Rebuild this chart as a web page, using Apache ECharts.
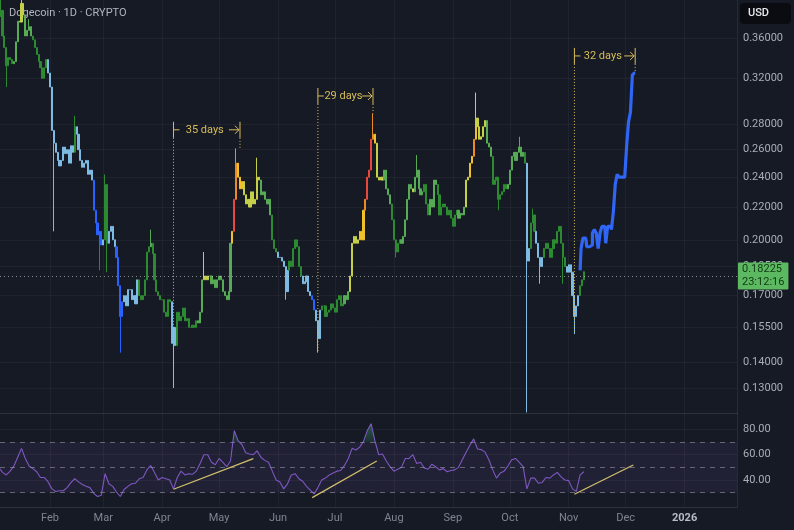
<!DOCTYPE html>
<html>
<head>
<meta charset="utf-8">
<title>Dogecoin 1D</title>
<script src="https://cdn.jsdelivr.net/npm/echarts@6/dist/echarts.min.js"></script>
<style>
  html, body { margin: 0; padding: 0; background: #161a25; }
  #chart { width: 794px; height: 530px; }
</style>
</head>
<body>
<div id="chart"></div>
<script>
// daily closes, one array per month (first candle is 2025-01-05)
const firstDay = '2025-01-05';
const firstOpen = 0.378;
const closeJan = [0.383, 0.390, 0.362, 0.350, 0.332, 0.340, 0.338, 0.334, 0.336, 0.356, 0.378, 0.377, 0.398, 0.385,
  0.362, 0.368, 0.372, 0.362, 0.358, 0.350, 0.343, 0.336, 0.330, 0.320, 0.330, 0.338, 0.325];
const closeFeb = [0.312, 0.275, 0.265, 0.258, 0.252, 0.248, 0.252, 0.262, 0.257, 0.260, 0.250, 0.263, 0.258, 0.278,
  0.272, 0.260, 0.252, 0.247, 0.250, 0.252, 0.242, 0.245, 0.238, 0.218, 0.210, 0.203, 0.205, 0.197];
const closeMar = [0.200, 0.235, 0.198, 0.205, 0.208, 0.200, 0.196, 0.190, 0.175, 0.160, 0.167, 0.170, 0.165, 0.173,
  0.173, 0.168, 0.170, 0.166, 0.178, 0.170, 0.168, 0.170, 0.178, 0.193, 0.196, 0.198, 0.192, 0.178, 0.172, 0.170, 0.168];
const closeApr = [0.168, 0.162, 0.160, 0.168, 0.167, 0.148, 0.155, 0.147, 0.162, 0.158, 0.160, 0.164, 0.158, 0.159,
  0.155, 0.155, 0.156, 0.155, 0.158, 0.157, 0.162, 0.178, 0.180, 0.178, 0.180, 0.180, 0.176, 0.178, 0.174, 0.178];
const closeMay = [0.180, 0.178, 0.172, 0.170, 0.168, 0.172, 0.198, 0.205, 0.225, 0.250, 0.240, 0.232, 0.237, 0.228,
  0.222, 0.225, 0.220, 0.230, 0.222, 0.225, 0.240, 0.238, 0.228, 0.230, 0.225, 0.222, 0.225, 0.215, 0.200, 0.195, 0.193];
const closeJun = [0.190, 0.190, 0.188, 0.185, 0.172, 0.183, 0.188, 0.185, 0.195, 0.200, 0.196, 0.185, 0.180, 0.176,
  0.177, 0.180, 0.172, 0.170, 0.168, 0.163, 0.158, 0.150, 0.163, 0.165, 0.165, 0.160, 0.162, 0.163, 0.166, 0.164];
const closeJul = [0.162, 0.168, 0.170, 0.165, 0.166, 0.170, 0.168, 0.172, 0.180, 0.198, 0.202, 0.198, 0.200, 0.205,
  0.200, 0.218, 0.225, 0.240, 0.245, 0.268, 0.272, 0.265, 0.240, 0.238, 0.240, 0.238, 0.245, 0.232, 0.228, 0.222, 0.212];
const closeAug = [0.200, 0.193, 0.198, 0.200, 0.198, 0.202, 0.212, 0.225, 0.235, 0.232, 0.230, 0.240, 0.245, 0.232,
  0.228, 0.230, 0.235, 0.222, 0.215, 0.225, 0.220, 0.238, 0.235, 0.228, 0.215, 0.220, 0.222, 0.220, 0.215, 0.218, 0.213];
const closeSep = [0.208, 0.215, 0.218, 0.213, 0.216, 0.215, 0.220, 0.238, 0.240, 0.250, 0.255, 0.268, 0.285, 0.278,
  0.268, 0.270, 0.278, 0.283, 0.265, 0.262, 0.255, 0.235, 0.238, 0.240, 0.225, 0.228, 0.230, 0.235, 0.232, 0.235];
const closeOct = [0.245, 0.255, 0.258, 0.252, 0.258, 0.262, 0.255, 0.258, 0.250, 0.188, 0.195, 0.210, 0.215, 0.205,
  0.198, 0.190, 0.185, 0.190, 0.195, 0.198, 0.195, 0.190, 0.195, 0.200, 0.198, 0.205, 0.208, 0.198, 0.190, 0.185, 0.182];
const closeNov = [0.186, 0.182, 0.170, 0.160, 0.165, 0.170, 0.175, 0.178, 0.18225];

// wicks that stick out of the bodies
const wickHighs = [['2025-01-06', 0.402], ['2025-01-17', 0.430], ['2025-01-21', 0.380], ['2025-02-14', 0.287],
  ['2025-03-02', 0.242], ['2025-03-26', 0.206], ['2025-04-23', 0.193], ['2025-05-10', 0.261], ['2025-05-21', 0.254],
  ['2025-07-21', 0.289], ['2025-08-13', 0.256], ['2025-09-13', 0.307], ['2025-10-06', 0.270], ['2025-10-13', 0.219]];
const wickLows = [['2025-01-09', 0.312], ['2025-02-03', 0.205], ['2025-02-27', 0.183], ['2025-03-03', 0.182],
  ['2025-03-10', 0.144], ['2025-04-07', 0.130], ['2025-06-05', 0.168], ['2025-06-22', 0.144], ['2025-08-02', 0.190],
  ['2025-09-25', 0.218], ['2025-10-10', 0.121], ['2025-10-17', 0.176], ['2025-10-29', 0.176], ['2025-11-04', 0.152]];

// projected path (blue), one value per day
const projectionStart = '2025-11-07';
const projection = [0.183, 0.195, 0.201, 0.201, 0.196, 0.196, 0.197, 0.204, 0.206, 0.204, 0.195, 0.204, 0.208, 0.208,
  0.198, 0.208, 0.208, 0.206, 0.217, 0.235, 0.242, 0.240, 0.240, 0.240, 0.241, 0.263, 0.282, 0.290, 0.323, 0.325];

// RSI, one value every 2 days from 2025-01-05
const rsiStart = '2025-01-05';
const rsiValues = [50, 46, 44, 47, 51, 58, 65, 57, 51, 49,
  46.5, 42, 42, 38.5, 33, 31, 31.5, 31.5, 34, 38,
  41, 38.5, 36.5, 35, 34, 29.5, 27, 28, 45, 37,
  35, 30.5, 27, 32.5, 35, 37, 37.5, 41, 42, 48,
  51.5, 46, 40, 42, 41, 40, 33, 42, 47, 44,
  45, 44.5, 47, 53, 60, 60, 54, 52, 57, 54,
  50.5, 55, 79, 71, 68, 61.5, 60.5, 60, 63, 58,
  55.5, 54, 47, 40, 38.5, 33, 37, 44, 45, 41,
  39, 35, 32, 29, 34, 40, 41.5, 44, 45.5, 47,
  47.5, 51.5, 57, 65, 63.7, 66, 70.5, 79, 84.5, 71,
  60, 60.5, 55, 50.5, 47, 48.5, 50, 57, 57, 60,
  53, 54, 49.5, 48.5, 52.5, 50.5, 48, 49, 46.5, 47.5,
  48, 50, 56, 62, 67.5, 72.5, 64.5, 64, 62, 56,
  48, 41.5, 45.5, 47, 51, 56, 57, 54, 50.5, 33,
  41.5, 41.5, 37.5, 38, 42, 41.5, 44, 46, 42.5, 40,
  39.5, 33, 31, 44, 46.5];

const rsiTrendlines = [
  [['2025-04-07', 32.7], ['2025-05-19', 56.9]],
  [['2025-06-19', 26.1], ['2025-07-23', 55]],
  [['2025-11-04', 28.7], ['2025-12-05', 51.9]]
];

const spans = [
  { from: '2025-04-07', to: '2025-05-12', label: '35 days', top: 0.2755, fromPrice: 0.130, toPrice: 0.261 },
  { from: '2025-06-22', to: '2025-07-21', label: '29 days', top: 0.304, fromPrice: 0.144, toPrice: 0.289 },
  { from: '2025-11-04', to: '2025-12-06', label: '32 days', top: 0.3416, fromPrice: 0.152, toPrice: 0.325 }
];

const priceTicks = [0.13, 0.14, 0.155, 0.17, 0.185, 0.2, 0.22, 0.24, 0.26, 0.28, 0.32, 0.36];
const rsiTicks = [40, 60, 80];
const monthTicks = ['2025-02-01', '2025-03-01', '2025-04-01', '2025-05-01', '2025-06-01', '2025-07-01',
  '2025-08-01', '2025-09-01', '2025-10-01', '2025-11-01', '2025-12-01', '2026-01-01'];
const monthLabels = ['Feb', 'Mar', 'Apr', 'May', 'Jun', 'Jul', 'Aug', 'Sep', 'Oct', 'Nov', 'Dec', '2026'];

const lastPrice = 0.18225;
const countdown = '23:12:16';

// RSI heat colours for the candles
const heatSteps = [31, 40, 50, 60, 66, 72, 78];
const heatColors = ['#2962ff', '#7dbbe3', '#2c8a31', '#58ab55', '#c6cf48', '#efc12a', '#ee8a25', '#e8483e'];

const DAY = 86400000;
const yearStart = Date.parse('2025-01-01');
const xMin = yearStart + 4.684 * DAY;
const xMax = yearStart + 392.58 * DAY;

const closes = [].concat(closeJan, closeFeb, closeMar, closeApr, closeMay, closeJun,
  closeJul, closeAug, closeSep, closeOct, closeNov);
const t0 = Date.parse(firstDay);
const highMap = Object.fromEntries(wickHighs.map(([d, v]) => [Date.parse(d), v]));
const lowMap = Object.fromEntries(wickLows.map(([d, v]) => [Date.parse(d), v]));
const rsiT0 = Date.parse(rsiStart);

function rsiAt(ts) {
  const p = (ts - rsiT0) / (2 * DAY);
  const i = Math.max(0, Math.min(rsiValues.length - 1, Math.floor(p)));
  const j = Math.min(rsiValues.length - 1, i + 1);
  const f = Math.max(0, Math.min(1, p - i));
  return rsiValues[i] * (1 - f) + rsiValues[j] * f;
}

function heat(r) {
  let k = 0;
  while (k < heatSteps.length && r >= heatSteps[k]) k++;
  return heatColors[k];
}

const candles = closes.map((c, i) => {
  const ts = t0 + i * DAY;
  const o = i ? closes[i - 1] : firstOpen;
  const hi = Math.max(o, c, highMap[ts] || 0);
  const lo = Math.min(o, c, lowMap[ts] || 1);
  const col = heat(rsiAt(ts));
  return {
    value: [ts, o, c, lo, hi],
    itemStyle: { color: col, color0: col, borderColor: col, borderColor0: col }
  };
});

const projT0 = Date.parse(projectionStart);
const projData = projection.map((v, i) => [projT0 + i * DAY, v]);
const rsiData = rsiValues.map((v, i) => [rsiT0 + i * 2 * DAY, v]);
const monthTs = monthTicks.map(d => Date.parse(d));

const gridColor = 'rgba(255,255,255,0.045)';
const labelColor = '#a9adb8';
const annoColor = '#d8bd5a';

function monthLabel(v) {
  let k = 0;
  monthTs.forEach((t, i) => { if (Math.abs(t - v) < Math.abs(monthTs[k] - v)) k = i; });
  const s = monthLabels[k];
  return /^\d{4}$/.test(s) ? '{yr|' + s + '}' : s;
}

const chart = echarts.init(document.getElementById('chart'));

const option = {
  backgroundColor: '#161a25',
  animation: false,
  textStyle: { fontFamily: 'Roboto, "Noto Sans", sans-serif' },
  grid: [
    { left: 0, right: 57, top: 0, height: 413 },
    { left: 0, right: 57, top: 413, height: 94 }
  ],
  xAxis: [
    {
      type: 'value', gridIndex: 0, min: xMin, max: xMax,
      axisLine: { show: true, onZero: false, lineStyle: { color: 'rgba(255,255,255,0.1)' } },
      axisTick: { show: false, customValues: monthTs },
      axisLabel: { show: false, customValues: monthTs },
      splitLine: { show: true, lineStyle: { color: gridColor } }
    },
    {
      type: 'value', gridIndex: 1, min: xMin, max: xMax,
      axisLine: { show: true, onZero: false, lineStyle: { color: 'rgba(255,255,255,0.1)' } },
      axisTick: { show: false, customValues: monthTs },
      axisLabel: {
        customValues: monthTs,
        color: '#7f8491',
        fontSize: 11,
        margin: 6,
        formatter: monthLabel,
        rich: { yr: { fontWeight: 'bold', color: '#b8bcc6', fontSize: 11 } }
      },
      splitLine: { show: true, lineStyle: { color: gridColor } }
    }
  ],
  yAxis: [
    {
      type: 'log', logBase: 10, gridIndex: 0, position: 'right',
      min: 0.1208, max: 0.402,
      axisLine: { show: true, lineStyle: { color: 'rgba(255,255,255,0.08)' } },
      axisTick: { show: false, customValues: priceTicks },
      axisLabel: {
        customValues: priceTicks, color: labelColor, fontSize: 11, margin: 6,
        formatter: v => Number(v).toFixed(5)
      },
      splitLine: { show: true, lineStyle: { color: gridColor } }
    },
    {
      type: 'value', gridIndex: 1, position: 'right',
      min: 18.7, max: 92.9,
      axisLine: { show: true, lineStyle: { color: 'rgba(255,255,255,0.08)' } },
      axisTick: { show: false, customValues: rsiTicks },
      axisLabel: {
        customValues: rsiTicks, color: labelColor, fontSize: 11, margin: 6,
        formatter: v => Number(v).toFixed(2)
      },
      splitLine: { show: true, lineStyle: { color: gridColor } }
    }
  ],
  series: [
    {
      name: 'DOGE', type: 'candlestick', xAxisIndex: 0, yAxisIndex: 0,
      barWidth: 1.6, clip: true, z: 3,
      itemStyle: { borderWidth: 1 },
      data: candles,
      markLine: {
        silent: true, symbol: 'none',
        lineStyle: { type: [1, 3], color: 'rgba(205,215,205,0.6)', width: 1 },
        label: {
          show: true, position: 'end', distance: 1,
          formatter: lastPrice.toFixed(5) + '\n' + countdown,
          backgroundColor: '#5db961', color: '#103a14',
          fontSize: 11, lineHeight: 13, padding: [1, 4, 0, 4], borderRadius: 1
        },
        data: [{ yAxis: lastPrice }]
      }
    },
    {
      name: 'projection', type: 'line', xAxisIndex: 0, yAxisIndex: 0,
      data: projData, step: 'middle', symbol: 'none',
      lineStyle: { color: '#2f66f6', width: 3.2 }, z: 4
    },
    {
      name: 'RSI', type: 'line', xAxisIndex: 1, yAxisIndex: 1,
      data: rsiData, symbol: 'none',
      lineStyle: { color: '#7e57c2', width: 1.1 }, z: 4,
      markArea: {
        silent: true,
        itemStyle: { color: 'rgba(126,87,194,0.11)' },
        data: [[{ yAxis: 30 }, { yAxis: 70 }]]
      },
      markLine: {
        silent: true, symbol: 'none', label: { show: false },
        lineStyle: { type: [5, 5], color: 'rgba(160,160,175,0.55)', width: 1 },
        data: [{ yAxis: 30 }, { yAxis: 50 }, { yAxis: 70 }]
      }
    },
    {
      name: 'overbought', type: 'line', xAxisIndex: 1, yAxisIndex: 1,
      data: rsiData, symbol: 'none', lineStyle: { width: 0 },
      areaStyle: { color: 'rgba(0,0,0,0)' }, z: 3
    }
  ].concat(rsiTrendlines.map(seg => ({
    type: 'line', xAxisIndex: 1, yAxisIndex: 1, symbol: 'none', z: 5,
    lineStyle: { color: '#d4c16c', width: 1.2 },
    data: seg.map(([d, v]) => [Date.parse(d), v])
  })))
};

chart.setOption(option);

// fill above 70 only: a gradient that turns transparent at the 70 line
const rsiTopY = chart.convertToPixel({ yAxisIndex: 1 }, 92.9);
const rsi70Y = chart.convertToPixel({ yAxisIndex: 1 }, 70);
chart.setOption({
  series: [{}, {}, {}, {
    areaStyle: {
      color: new echarts.graphic.LinearGradient(0, rsiTopY, 0, rsi70Y, [
        { offset: 0, color: 'rgba(70,190,130,0.75)' },
        { offset: 0.999, color: 'rgba(70,190,130,0.2)' },
        { offset: 1, color: 'rgba(0,0,0,0)' }
      ], true)
    }
  }]
});

// span annotations and header boxes, placed through the chart's own scales
const px = (d, v) => chart.convertToPixel({ xAxisIndex: 0, yAxisIndex: 0 }, [Date.parse(d), v]);
const graphic = [];
const line = (x1, y1, x2, y2, dash) => graphic.push({
  type: 'line', silent: true, z: 50,
  shape: { x1, y1, x2, y2 },
  style: { stroke: annoColor, lineWidth: 1, lineDash: dash || null }
});

spans.forEach(s => {
  const [xl, yt] = px(s.from, s.top);
  const [xr] = px(s.to, s.top);
  const yl = px(s.from, s.fromPrice)[1];
  const yr = px(s.to, s.toPrice)[1];
  line(xl, yt - 8, xl, yt + 8);
  line(xr, yt - 8, xr, yt + 8);
  line(xl, yt + 8, xl, yl, [1, 2]);
  line(xr, yt + 8, xr, yr, [1, 2]);
  line(xl, yt, xl + 6, yt);
  line(xr - 11, yt, xr - 1, yt);
  graphic.push({
    type: 'polyline', silent: true, z: 50,
    shape: { points: [[xr - 5, yt - 4], [xr - 1, yt], [xr - 5, yt + 4]] },
    style: { stroke: annoColor, fill: null, lineWidth: 1 }
  });
  graphic.push({
    type: 'text', silent: true, z: 50,
    x: (xl + xr) / 2 - 2, y: yt,
    style: {
      text: s.label, fill: annoColor, font: '11px Roboto, sans-serif',
      align: 'center', verticalAlign: 'middle'
    }
  });
});

// title sits under the candles, like the reference
graphic.push({
  type: 'text', left: 9, top: 8, z: 1,
  style: { text: 'Dogecoin · 1D · CRYPTO', fill: '#b2b5be', font: '11px Roboto, sans-serif' }
});
graphic.push({
  type: 'group', left: 740, top: 3, z: 60,
  children: [
    { type: 'rect', shape: { width: 51, height: 21, r: 4 }, style: { fill: '#0b0c11' } },
    {
      type: 'text', x: 8, y: 10.5,
      style: { text: 'USD', fill: '#e8e9ee', font: '500 11px Roboto, sans-serif', verticalAlign: 'middle' }
    }
  ]
});

chart.setOption({ graphic });
</script>
</body>
</html>
